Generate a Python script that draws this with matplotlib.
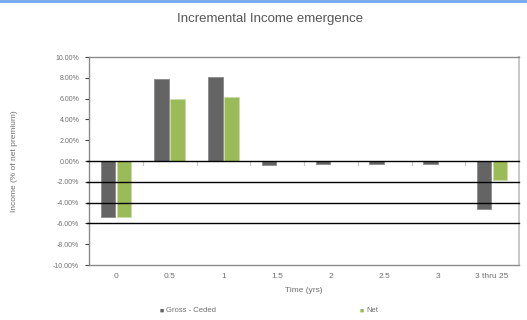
import matplotlib
matplotlib.use("Agg")
import matplotlib.pyplot as plt
import numpy as np
from matplotlib.lines import Line2D

# Data
categories = ["0", "0.5", "1", "1.5", "2", "2.5", "3", "3 thru 25"]
gross_ceded = [-5.4, 7.9, 8.1, -0.35, -0.3, -0.3, -0.3, -4.6]
net = [-5.4, 6.0, 6.15, 0.0, 0.0, 0.0, 0.0, -1.8]
y_ticks = [10, 8, 6, 4, 2, 0, -2, -4, -6, -8, -10]
ruled_levels = [-2, -4, -6]

GREY_BAR = "#646464"
GREEN_BAR = "#9bbb59"
TXT = "#707070"

plt.rcParams["font.family"] = ["Liberation Sans", "DejaVu Sans"]

fig = plt.figure(figsize=(5.27, 3.2), dpi=100)
ax = fig.add_axes([89 / 527, 55 / 320, 430 / 527, 208 / 320])

x = np.arange(len(categories))
w = 0.27
off = 0.148
ax.bar(x - off, gross_ceded, width=w, color=GREY_BAR, edgecolor="#8a8a8a",
       linewidth=0.6, zorder=3, label="Gross - Ceded")
ax.bar(x + off, net, width=w, color=GREEN_BAR, edgecolor="#c9dca6",
       linewidth=0.6, zorder=3, label="Net")

ax.set_xlim(-0.5, len(categories) - 0.5)
ax.set_ylim(-10, 10)

# black rules at zero and several negative levels, running past the left axis
for lv in [0] + ruled_levels:
    ax.plot([-0.54, len(categories) - 0.5], [lv, lv], color="black", lw=1.0,
            zorder=4, clip_on=False)

# small category separator marks on the zero line
for b in np.arange(0.5, len(categories) - 0.5, 1.0):
    ax.plot([b, b], [0, -0.35], color="#c8c8c8", lw=0.8, zorder=2)

ax.set_yticks(y_ticks)
ax.set_yticklabels([f"{v:.2f}%" for v in y_ticks], fontsize=5, color=TXT)
ax.tick_params(axis="y", length=3, width=0.8, color="#404040", pad=4)
ax.set_xticks(x)
ax.set_xticklabels(categories, fontsize=6, color=TXT)
ax.tick_params(axis="x", length=0, pad=6)

for s in ["left", "bottom", "top"]:
    ax.spines[s].set_color("#8c8c8c")
    ax.spines[s].set_linewidth(1.0)
ax.spines["right"].set_color("#c8c8c8")
ax.spines["right"].set_linewidth(1.4)

ax.set_xlabel("Time (yrs)", fontsize=6, color=TXT, labelpad=5)
ax.set_ylabel("Income (% of net premium)", fontsize=6, color=TXT, labelpad=25)

fig.text(270 / 527, 1 - 19 / 320, "Incremental Income emergence", ha="center",
         va="center", fontsize=9.5, color="#555555")

# legend entries placed along the bottom
fig.text(162 / 527, 1 - 311 / 320, "\u25a0", fontsize=5, color=GREY_BAR,
         ha="center", va="center")
fig.text(166 / 527, 1 - 311 / 320, "Gross - Ceded", fontsize=5.5, color=TXT,
         ha="left", va="center")
fig.text(362 / 527, 1 - 311 / 320, "\u25a0", fontsize=5, color=GREEN_BAR,
         ha="center", va="center")
fig.text(366 / 527, 1 - 311 / 320, "Net", fontsize=5.5, color=TXT,
         ha="left", va="center")

# thin blue band along the top edge
fig.add_artist(Line2D([0, 1], [1 - 1 / 320, 1 - 1 / 320], color="#6fa8f0",
                      lw=2.0, transform=fig.transFigure))

fig.savefig("out.png", dpi=100)
